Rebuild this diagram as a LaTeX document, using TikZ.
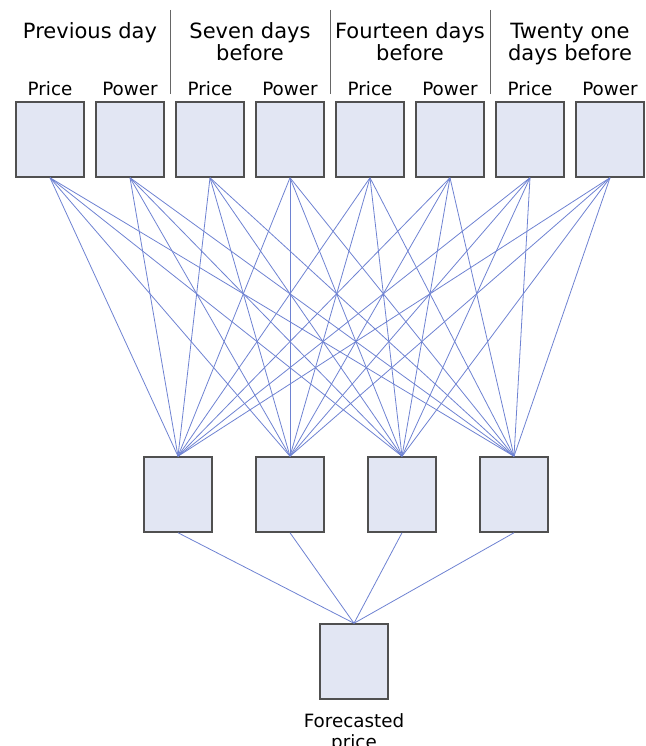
\documentclass[tikz,border=0pt]{standalone}
\usepackage{fontspec}
\setmainfont{DejaVu Sans}
\usetikzlibrary{positioning, calc}

\definecolor{cellfill}{RGB}{226,230,243}
\definecolor{celldraw}{RGB}{80,80,80}
\definecolor{linkblue}{RGB}{110,130,210}

\begin{document}
\begin{tikzpicture}[
        x=1pt, y=-1pt,
        cell/.style={rectangle, draw=celldraw, line width=1.5pt, fill=cellfill, minimum width=68pt, minimum height=75pt, inner sep=0pt},
        link/.style={draw=linkblue, line width=0.8pt},
        group/.style={font=\fontsize{21}{22}\selectfont, align=center, anchor=north, inner sep=0pt},
        label/.style={font=\fontsize{18.3}{21}\selectfont, align=center, anchor=base, inner sep=0pt},
        divider/.style={draw=black!60, line width=1pt}
    ]
        \useasboundingbox (0,0) rectangle (645,746);
        \clip (0,0) rectangle (645,746);

        % Input layer: price and power for each lag
        \foreach \i/\x/\name in {1/50/Price, 2/130/Power, 3/210/Price, 4/290/Power,
                                 5/370/Price, 6/450/Power, 7/530/Price, 8/610/Power} {
            \node[cell] (t\i) at (\x, 139.5) {};
            \node[label] (l\i) at (\x, 96) {\name};
        }

        % Group headings
        \node[group] (g1) at (90, 22) {Previous day};
        \node[group] (g2) at (250, 22) {Seven days\\before};
        \node[group] (g3) at (410, 22) {Fourteen days\\before};
        \node[group] (g4) at (570, 22.5) {Twenty one\\days before};

        % Dividers between the groups
        \foreach \x in {170, 330, 490}
            \draw[divider] (\x, 10) -- (\x, 94);

        % Hidden layer
        \foreach \j/\x in {1/178, 2/290, 3/402, 4/514}
            \node[cell] (h\j) at (\x, 494.5) {};

        % Output layer
        \node[cell] (out) at (354, 661.5) {};
        \node[label, anchor=north] (outlabel) at (354, 713) {Forecasted\\price};

        % Fully connected: inputs -> hidden
        \foreach \i in {1,...,8}
            \foreach \j in {1,...,4}
                \draw[link] (t\i.south) -- (h\j.north);

        % Hidden -> output
        \foreach \j in {1,...,4}
            \draw[link] (h\j.south) -- (out.north);
    \end{tikzpicture}
\end{document}
